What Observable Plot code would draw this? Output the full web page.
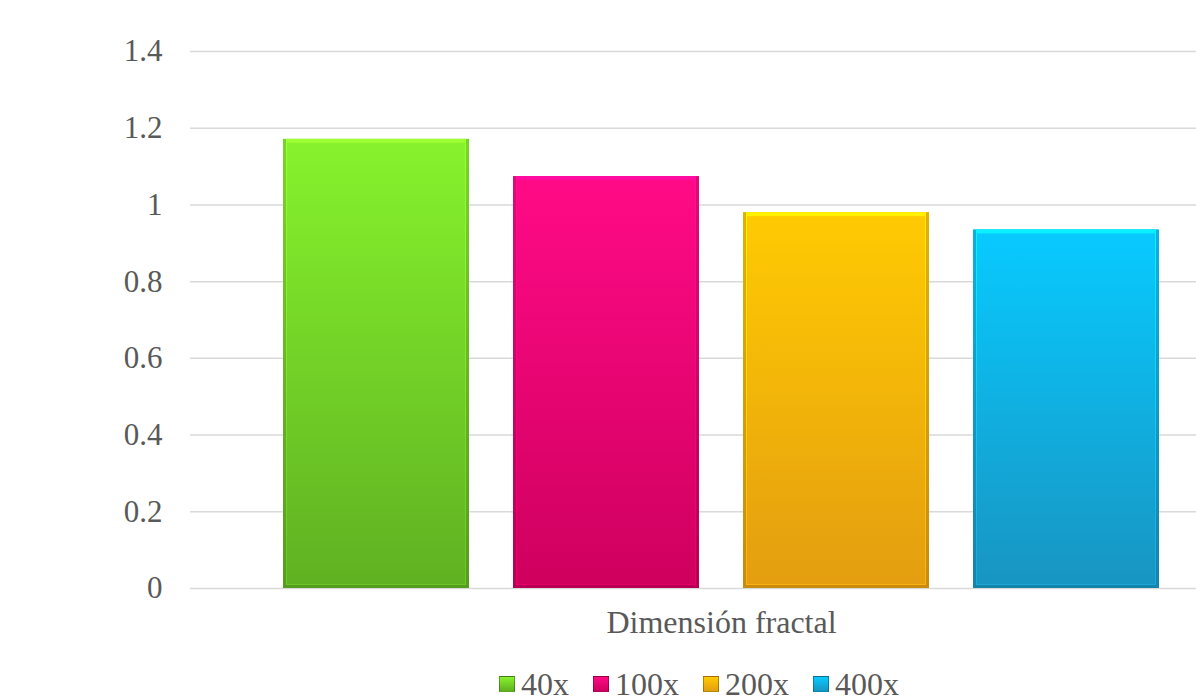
<!DOCTYPE html>
<html>
<head>
<meta charset="utf-8">
<script src="https://cdn.jsdelivr.net/npm/d3@7"></script>
<script src="https://cdn.jsdelivr.net/npm/@observablehq/plot@0.6"></script>
<style>
  html, body { margin: 0; padding: 0; background: #fff; }
  #wrap { position: relative; width: 1196px; height: 700px; font-family: "Liberation Serif", "Times New Roman", serif; }
  #legend { position: absolute; left: 0; top: 666px; width: 1196px; box-sizing: border-box; padding-left: 202px; display: flex; justify-content: center; align-items: center; color: #595959; font-size: 32px; line-height: 36px; }
  .item { display: flex; align-items: center; margin: 0 12px; }
  .sw { width: 16px; height: 16px; margin-right: 6px; box-sizing: border-box; border: 1px solid rgba(0,0,0,0.3); }
</style>
</head>
<body>
<div id="wrap">
  <div id="chart"></div>
  <div id="legend"></div>
</div>
<script>
const series = ["40x", "100x", "200x", "400x"];
const values = [1.171, 1.074, 0.980, 0.935];
const category = "Dimensión fractal";
const yTicks = [0, 0.2, 0.4, 0.6, 0.8, 1, 1.2, 1.4];
const topColors = ["#86f22c", "#ff0a86", "#ffca02", "#08caff"];
const bottomColors = ["#60b122", "#cf005e", "#e49e10", "#1895c2"];

const data = series.map((s, i) => ({ series: s, value: values[i] }));

const defsMark = () => {
  const defs = d3.create("svg:defs");
  const grad = (id, c0, c1) => {
    const g = defs.append("linearGradient").attr("id", id)
      .attr("x1", 0).attr("y1", 0).attr("x2", 0).attr("y2", 1);
    g.append("stop").attr("offset", "0%").attr("stop-color", c0);
    g.append("stop").attr("offset", "100%").attr("stop-color", c1);
  };
  series.forEach((s, i) => {
    grad("g" + i, topColors[i], bottomColors[i]);
    grad("dk" + i, d3.color(topColors[i]).darker(0.35).formatHex(), d3.color(bottomColors[i]).darker(0.35).formatHex());
    grad("hi" + i, d3.color(topColors[i]).brighter(0.5).formatHex(), d3.color(bottomColors[i]).brighter(0.3).formatHex());
  });
  const f = defs.append("filter").attr("id", "shadow").attr("x", "-10%").attr("y", "-10%").attr("width", "130%").attr("height", "130%");
  f.append("feDropShadow").attr("dx", 1.5).attr("dy", 2).attr("stdDeviation", 2).attr("flood-color", "#000").attr("flood-opacity", 0.3);
  return defs.node();
};

const barLayers = series.flatMap((s, i) => {
  const opts = { x: "series", y: "value", filter: d => d.series === s };
  return [
    Plot.barY(data, { ...opts, fill: `url(#dk${i})`, ariaLabel: "bar-edge" }),
    Plot.barY(data, { ...opts, fill: `url(#hi${i})`, insetLeft: 3, insetRight: 3, insetBottom: 3 }),
    Plot.barY(data, { ...opts, fill: `url(#g${i})`, insetLeft: 4, insetRight: 4, insetBottom: 4, insetTop: 4 })
  ];
});

const chart = Plot.plot({
  width: 1196,
  height: 660,
  marginLeft: 190,
  marginRight: 0,
  marginTop: 51,
  marginBottom: 72,
  style: { fontFamily: "'Liberation Serif', 'Times New Roman', serif", color: "#595959", background: "#fff" },
  x: { type: "band", domain: series, range: [190, 1252], paddingInner: 0.191, paddingOuter: 0.404, axis: null },
  y: { domain: [0, 1.4], label: null },
  marks: [
    defsMark,
    Plot.ruleY(yTicks, { stroke: "#d9d9d9", strokeWidth: 1.5 }),
    Plot.axisY({ ticks: yTicks, tickFormat: d => String(d), tickSize: 0, tickPadding: 28, fontSize: 31, label: null, fill: "#595959" }),
    ...barLayers,
    Plot.text([category], { text: d => d, frameAnchor: "bottom", dx: 28, dy: 44, fontSize: 32, fill: "#595959" })
  ]
});
chart.querySelectorAll('g[aria-label="bar-edge"]').forEach(g => g.setAttribute("filter", "url(#shadow)"));
document.getElementById("chart").appendChild(chart);

const legend = document.getElementById("legend");
series.forEach((s, i) => {
  const item = document.createElement("div");
  item.className = "item";
  const sw = document.createElement("span");
  sw.className = "sw";
  sw.style.background = `linear-gradient(${topColors[i]}, ${bottomColors[i]})`;
  const t = document.createElement("span");
  t.textContent = s;
  item.appendChild(sw);
  item.appendChild(t);
  legend.appendChild(item);
});
</script>
</body>
</html>
